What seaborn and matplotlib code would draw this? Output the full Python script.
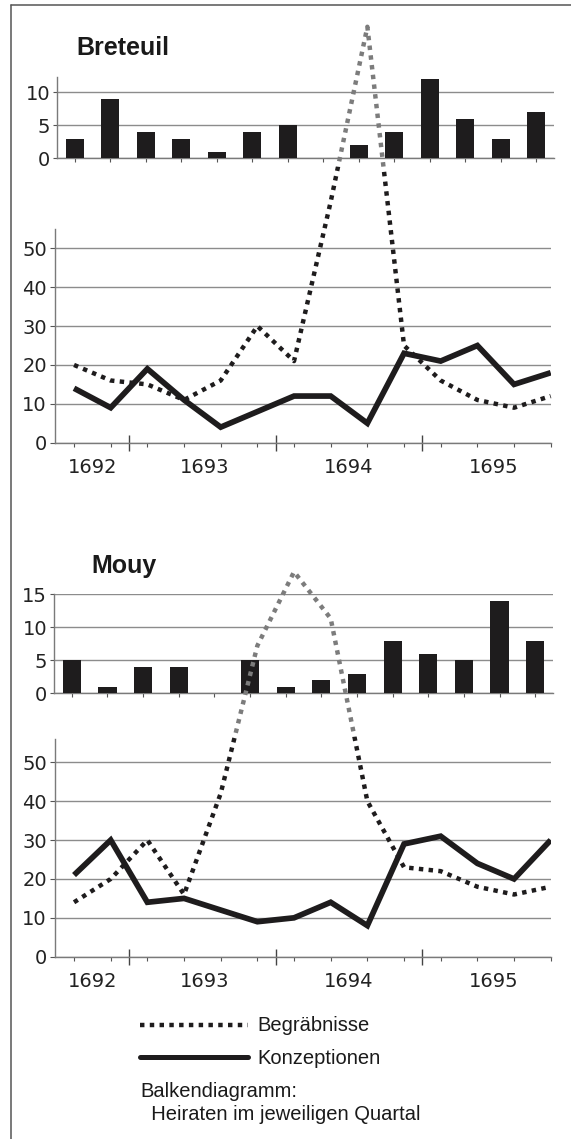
import seaborn as sns
import matplotlib.pyplot as plt
from matplotlib.lines import Line2D
from matplotlib.patches import Rectangle
import numpy as np

# quarters 1692 Q3 .. 1695 Q4
quarters = ['1692-3', '1692-4', '1693-1', '1693-2', '1693-3', '1693-4', '1694-1',
            '1694-2', '1694-3', '1694-4', '1695-1', '1695-2', '1695-3', '1695-4']
years = ['1692', '1693', '1694', '1695']
year_pos = [0.5, 3.55, 7.5, 11.45]
year_breaks = [1.5, 5.5, 9.5]

bret_marriages = [3, 9, 4, 3, 1, 4, 5, 0, 2, 4, 12, 6, 3, 7]
bret_burials = [20, 16, 15, 11, 16, 30, 21, 62, 107, 25, 16, 11, 9, 12]
bret_conceptions = [14, 9, 19, 11, 4, 8, 12, 12, 5, 23, 21, 25, 15, 18]

mouy_marriages = [5, 1, 4, 4, 0, 5, 1, 2, 3, 8, 6, 5, 14, 8]
mouy_burials = [14, 20, 30, 16, 42, 80, 99, 87, 40, 23, 22, 18, 16, 18]
mouy_conceptions = [21, 30, 14, 15, 12, 9, 10, 14, 8, 29, 31, 24, 20, 30]

W, H = 571, 1139
BLACK = '#1e1c1d'
GREY = '#7c7c7c'
GRID = '#8c8c8c'

sns.set_style('white')
plt.rcParams['font.family'] = ['DejaVu Sans']

fig = plt.figure(figsize=(W / 100, H / 100), dpi=100)


def box(l, t, r, b):
    return [l / W, 1 - b / H, (r - l) / W, (b - t) / H]


def bar_panel(pos, values, ymax, ticks):
    ax = fig.add_axes(box(*pos))
    sns.barplot(x=quarters, y=values, color=BLACK, saturation=1, width=0.51,
                linewidth=0, ax=ax, zorder=3)
    ax.set_ylim(0, ymax)
    ax.set_yticks(ticks)
    ax.set_xlabel('')
    ax.set_ylabel('')
    ax.tick_params(axis='x', bottom=True, labelbottom=False, length=3, width=0.8, color='#555')
    ax.tick_params(axis='y', left=True, length=3, width=0.8, color='#555', pad=2,
                   labelsize=14, labelcolor='#222')
    for s in ['top', 'right']:
        ax.spines[s].set_visible(False)
    for s in ['left', 'bottom']:
        ax.spines[s].set_color('#7a7a7a')
        ax.spines[s].set_linewidth(1)
    ax.yaxis.grid(True, color=GRID, lw=1)
    ax.set_axisbelow(True)
    return ax


def line_panel(pos, burials, conceptions, ymax, cut):
    ax = fig.add_axes(box(*pos))
    ax.patch.set_alpha(0)
    xq = np.arange(len(quarters))
    sns.lineplot(x=xq, y=conceptions, color=BLACK, linewidth=4.1, ax=ax, zorder=4,
                 solid_joinstyle='miter', solid_capstyle='butt')
    # burials run over the top of the axes; the part up in the bar chart is grey
    for col, top, bottom in [(BLACK, cut, H), (GREY, 0, cut)]:
        sns.lineplot(x=xq, y=burials, color=col, linewidth=3.2, linestyle=(0, (1, 1.2)),
                     dash_capstyle='butt', ax=ax, zorder=5)
        ln = ax.lines[-1]
        ln.set_clip_path(Rectangle((0, 1 - bottom / H), 1, (bottom - top) / H,
                                   transform=fig.transFigure))
    ax.set_xlim(-0.53, 13)
    ax.set_ylim(0, ymax)
    ax.set_yticks(range(0, 51, 10))
    ax.set_xticks(year_breaks)
    ax.set_xticks(xq, minor=True)
    ax.set_xlabel('')
    ax.set_ylabel('')
    ax.tick_params(axis='x', which='major', bottom=True, direction='inout', length=11.5,
                   width=1, color='#444', labelbottom=False)
    ax.tick_params(axis='x', which='minor', bottom=True, direction='out', length=3,
                   width=0.8, color='#555')
    ax.tick_params(axis='y', left=True, length=3.6, width=0.8, color='#555', pad=1.9,
                   labelsize=14, labelcolor='#222')
    for s in ['top', 'right']:
        ax.spines[s].set_visible(False)
    for s in ['left', 'bottom']:
        ax.spines[s].set_color('#7a7a7a')
        ax.spines[s].set_linewidth(1)
    ax.yaxis.grid(True, color=GRID, lw=1)
    ax.set_axisbelow(True)
    h_px = (pos[3] - pos[1])
    for yr, xp in zip(years, year_pos):
        ax.text(xp, -25 / h_px, yr, transform=ax.get_xaxis_transform(), ha='center',
                va='center', fontsize=14, color='#222')
    return ax


bar_panel((57, 77.3, 554, 158.3), bret_marriages, 12.3, [0, 5, 10])
line_panel((54.6, 228.9, 550.7, 442.7), bret_burials, bret_conceptions, 55, 167)
bar_panel((54, 594.3, 553, 693.3), mouy_marriages, 15, [0, 5, 10, 15])
line_panel((54.6, 739, 550.7, 956.7), mouy_burials, mouy_conceptions, 56, 737)

title_font = dict(family='Liberation Sans', fontweight='bold', fontsize=18, color='#1a1a1a')
fig.text(76.5 / W, 1 - 55 / H, 'Breteuil', va='baseline', **title_font)
fig.text(91 / W, 1 - 573 / H, 'Mouy', va='baseline', **title_font)

# legend, drawn by hand
fig.add_artist(Line2D([140 / W, 248 / W], [1 - 1025 / H] * 2, color=BLACK, lw=3.2,
                      ls=(0, (1, 1.2)), dash_capstyle='butt'))
fig.add_artist(Line2D([140 / W, 248 / W], [1 - 1057 / H] * 2, color=BLACK, lw=3.6))
leg_font = dict(family='Liberation Sans', fontsize=14.5, color='#1a1a1a', va='baseline')
fig.text(257 / W, 1 - 1031 / H, 'Begräbnisse', **leg_font)
fig.text(257 / W, 1 - 1064 / H, 'Konzeptionen', **leg_font)
fig.text(140 / W, 1 - 1097 / H, 'Balkendiagramm:', **leg_font)
fig.text(140 / W, 1 - 1120 / H, '  Heiraten im jeweiligen Quartal', **leg_font)

# frame (left and top edges)
fig.add_artist(Line2D([11 / W, 11 / W], [0, 1 - 5 / H], color='#555', lw=1.1))
fig.add_artist(Line2D([11 / W, 1], [1 - 5 / H] * 2, color='#555', lw=1.1))

fig.savefig('out.png', dpi=100)
